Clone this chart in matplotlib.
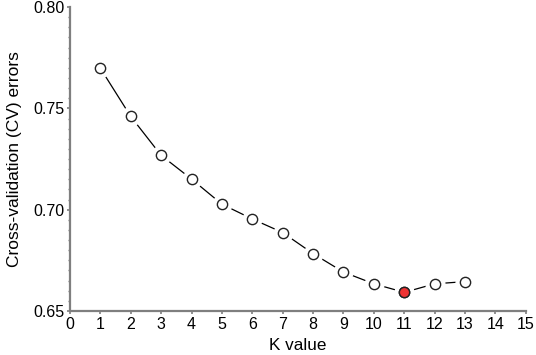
import numpy as np
import matplotlib
matplotlib.use("Agg")
import matplotlib.pyplot as plt
from matplotlib.ticker import MultipleLocator, FormatStrFormatter

plt.rcParams['font.family'] = ['Liberation Sans', 'DejaVu Sans']

# Data
k_values = [1, 2, 3, 4, 5, 6, 7, 8, 9, 10, 11, 12, 13]
cv_errors = [0.7698, 0.7460, 0.7268, 0.7151, 0.7027, 0.6954, 0.6887,
             0.6783, 0.6692, 0.6634, 0.6592, 0.6634, 0.6645]
best_k = 11

axis_grey = '#7f7f7f'

fig = plt.figure(figsize=(5.36, 3.55), dpi=100)
ax = fig.add_axes([0.1306, 0.124, 0.8504, 0.856])

# line, then white halos so the line stops short of the markers
ax.plot(k_values, cv_errors, color='black', lw=0.9, zorder=1)
ax.plot(k_values, cv_errors, 'o', ms=13.5, mfc='white', mec='white', zorder=2)
ax.plot(k_values, cv_errors, 'o', ms=7.4, mfc='white', mec='#222222', mew=1.0, zorder=3)

# highlight the best K
i = k_values.index(best_k)
ax.plot(k_values[i], cv_errors[i], 'o', ms=7.4, mfc='#ee3333', mec='#222222', mew=1.0, zorder=4)

ax.set_xlim(0, 15)
ax.set_ylim(0.65, 0.80)
ax.xaxis.set_major_locator(MultipleLocator(1))
ax.yaxis.set_major_locator(MultipleLocator(0.05))
ax.yaxis.set_minor_locator(MultipleLocator(0.005))
ax.yaxis.set_major_formatter(FormatStrFormatter('%.2f'))

for side in ['top', 'right']:
    ax.spines[side].set_visible(False)
for side in ['left', 'bottom']:
    ax.spines[side].set_color(axis_grey)
    ax.spines[side].set_linewidth(1.6)

ax.tick_params(which='major', direction='out', length=2.5, width=1.2, color=axis_grey,
               labelsize=11.5, labelcolor='black', pad=1.5)
ax.tick_params(which='minor', direction='out', length=1.8, width=1.0, color=axis_grey)

ax.set_xlabel('K value', fontsize=12.3, labelpad=5)
ax.set_ylabel('Cross-validation (CV) errors', fontsize=12.5, labelpad=8)

fig.savefig('out.png', dpi=100)
